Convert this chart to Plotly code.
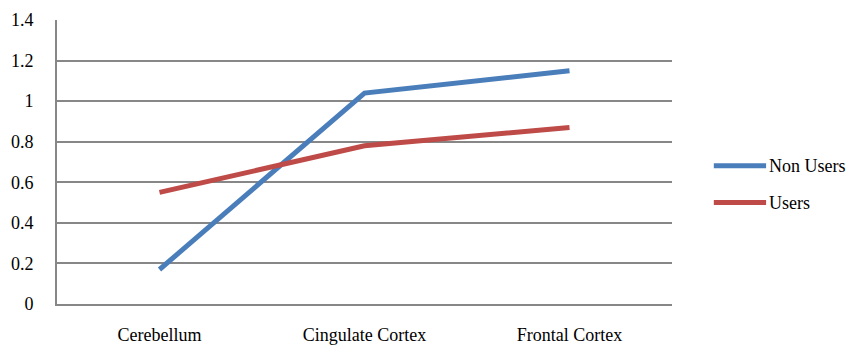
import plotly.graph_objects as go

categories = ["Cerebellum", "Cingulate Cortex", "Frontal Cortex"]
non_users = [0.17, 1.04, 1.15]
users = [0.55, 0.78, 0.87]
series_names = ["Non Users", "Users"]
colors = ["#4A7EBB", "#BE4B48"]
y_ticks = [0, 0.2, 0.4, 0.6, 0.8, 1.0, 1.2, 1.4]
y_tick_labels = ["0", "0.2", "0.4", "0.6", "0.8", "1", "1.2", "1.4"]

FONT = "Times New Roman, Liberation Serif, DejaVu Serif, serif"
GRID = "#878787"

fig = go.Figure()
for name, vals, col in zip(series_names, [non_users, users], colors):
    fig.add_trace(go.Scatter(x=categories, y=vals, mode="lines", name=name,
                             line=dict(color=col, width=5), showlegend=False))

# custom legend (long line samples like the original)
legend_y = [0.487, 0.357]
for name, col, ly in zip(series_names, colors, legend_y):
    fig.add_shape(type="line", xref="paper", yref="paper", x0=1.068, x1=1.153,
                  y0=ly, y1=ly, line=dict(color=col, width=5))
    fig.add_annotation(xref="paper", yref="paper", x=1.155, y=ly, text=name,
                       showarrow=False, xanchor="left", yanchor="middle",
                       font=dict(family=FONT, size=18, color="black"))

fig.update_layout(
    width=851, height=345,
    margin=dict(l=57, r=179, t=20, b=41),
    paper_bgcolor="white", plot_bgcolor="white",
    font=dict(family=FONT, size=18, color="black"),
    xaxis=dict(type="category", range=[-0.5, 2.5], showgrid=False,
               showline=True, linecolor=GRID, linewidth=2, automargin=False,
               ticks="", ticklabelstandoff=13, tickfont=dict(family=FONT, size=18)),
    yaxis=dict(range=[0, 1.4], tickvals=y_ticks, ticktext=y_tick_labels,
               showgrid=True, gridcolor=GRID, gridwidth=2, automargin=False,
               showline=True, linecolor=GRID, linewidth=2,
               zeroline=False, ticks="", ticklabelstandoff=18,
               tickfont=dict(family=FONT, size=18)),
)

fig.write_html("out.html", config={"displayModeBar": False},
               post_script="document.body.style.margin='0';document.body.style.overflow='hidden';")
